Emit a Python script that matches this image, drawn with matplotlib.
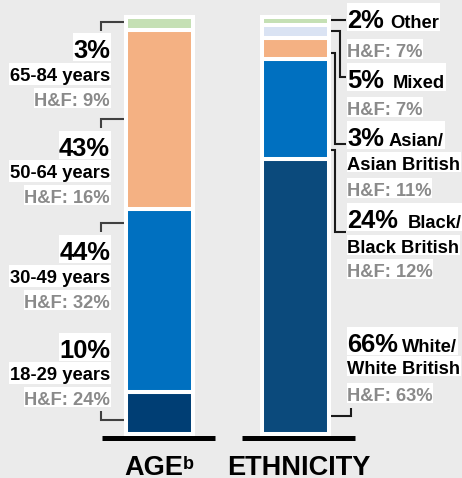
import matplotlib
matplotlib.use("Agg")
import matplotlib.pyplot as plt
from matplotlib.transforms import Affine2D
from matplotlib.patches import Rectangle
from matplotlib.lines import Line2D

# ---------------- data ----------------
# Age breakdown, stacked bottom to top
age_groups = ["18-29 years", "30-49 years", "50-64 years", "65-84 years"]
age_share = [10, 44, 43, 3]
age_hf = [24, 32, 16, 9]
age_colors = ["#003e74", "#0070c0", "#f4b183", "#c5e0b4"]

# Ethnicity breakdown, stacked bottom to top
eth_groups = ["White/\nWhite British", "Black/\nBlack British", "Mixed",
              "Asian/\nAsian British", "Other"]
eth_share = [66, 24, 5, 3, 2]
eth_hf = [63, 12, 7, 11, 7]
eth_colors = ["#0b4a7c", "#0070c0", "#f4b183", "#dae3f3", "#c5e0b4"]

bar_titles = ["AGE", "ETHNICITY"]

# ---------------- styling ----------------
W, H = 462, 478
BG = "#ebebeb"
GREY = "#8a8a8a"
FONT = "Liberation Sans"
BIG = 18.4     # percentage figures
SMALL = 13.2   # group names and H&F figures

fig = plt.figure(figsize=(W / 100, H / 100), dpi=100)
fig.patch.set_facecolor(BG)
ax = fig.add_axes([0, 0, 1, 1])
ax.set_facecolor(BG)
ax.axis("off")

# pixel (from top-left) coordinates for annotations
px = Affine2D().scale(1 / W, -1 / H).translate(0, 1) + fig.transFigure

# value axis: 0 % at row 434, 100 % at row 17
scale = 4.17
ax.set_ylim(-(H - 434) / scale, 434 / scale)
slot = 136.0
ax.set_xlim(-159.5 / slot, (W - 159.5) / slot)
bar_w = 67 / slot


def stack(xpos, shares, colors):
    bottom = 0
    for v, c in zip(shares, colors):
        ax.bar(xpos, v, bottom=bottom, width=bar_w, color=c,
               edgecolor="white", linewidth=2.9, zorder=2)
        bottom += v


stack(0, age_share, age_colors)
stack(1, eth_share, eth_colors)


def poly(xs, ys, color, lw=1.5, z=1):
    ax.add_line(Line2D(xs, ys, transform=px, color=color, lw=lw,
                       solid_joinstyle="miter", solid_capstyle="butt",
                       zorder=z, clip_on=False))


# brackets on the age side
for y in [22.5, 119.5, 223.3]:
    poly([126, 101, 101], [y, y, y + 9], "#404040")
poly([126, 101, 101], [420.5, 420.5, 411.5], "#404040")

# brackets on the ethnicity side
ec = "#1a1a1a"
poly([329, 346], [20, 20], ec)
poly([329, 340, 340, 346], [31, 31, 77, 77], ec)
poly([329, 335, 335, 346], [53, 53, 144, 144], ec)
poly([329, 335, 335, 346], [150, 150, 232, 232], ec)
poly([327, 351, 351], [416.5, 416.5, 408], ec)

# baselines under each bar
poly([102, 215], [438.5, 438.5], "black", lw=3.6, z=5)
poly([242, 355], [438.5, 438.5], "black", lw=3.6, z=5)

lines = []  # each entry: (baseline_row, [Text, ...], [font sizes])


def txt(x, y, s, size, color="black", ha="left"):
    return ax.text(x, y, s, transform=px, fontsize=size, color=color,
                   ha=ha, va="baseline", family=FONT, fontweight="bold",
                   zorder=7)


# age labels, right aligned against the brackets
age_rows = [(358, 380, 405), (260, 283, 308), (156, 178, 203), (58, 81, 106)]
for name, share, hf, (b1, b2, b3) in zip(age_groups, age_share, age_hf, age_rows):
    lines.append((b1, [txt(110, b1, f"{share}%", BIG, ha="right")], [BIG]))
    lines.append((b2, [txt(110, b2, name, SMALL, ha="right")], [SMALL]))
    lines.append((b3, [txt(110, b3, f"H&F: {hf}%", SMALL, GREY, ha="right")], [SMALL]))

# ethnicity labels, left aligned after the brackets
eth_rows = [(352, 402, 374, 401), (228, 408, 253, 277), (88, 393, None, 115),
            (146, 389, 170, 196), (28, 390.7, None, 57)]
for name, share, hf, (b1, nx, b2, b3) in zip(eth_groups, eth_share, eth_hf, eth_rows):
    parts = name.split("\n")
    t1 = txt(347, b1, f"{share}%", BIG)
    t2 = txt(nx, b1, parts[0], SMALL)
    lines.append((b1, [t1, t2], [BIG, SMALL]))
    if len(parts) > 1:
        lines.append((b2, [txt(347, b2, parts[1], SMALL)], [SMALL]))
    lines.append((b3, [txt(347, b3, f"H&F: {hf}%", SMALL, GREY)], [SMALL]))

# white boxes behind each label line
fig.canvas.draw()
r = fig.canvas.get_renderer()
for base, texts, sizes in lines:
    exts = [t.get_window_extent(r) for t in texts]
    x0 = min(e.x0 for e in exts) - 0.5
    x1 = max(e.x1 for e in exts) + 0.5
    em = max(sizes) * 100 / 72
    s = "".join(t.get_text() for t in texts)
    below = 0.22 * em if any(c in s for c in "ypgjq") else 0.1 * em
    top = base - 0.97 * em
    ax.add_patch(Rectangle((x0, top), x1 - x0, base + below - top,
                           transform=px, facecolor="white",
                           edgecolor="none", zorder=6, clip_on=False))

# titles under the bars
TITLE = 19.5
txt(124, 475.5, bar_titles[0], TITLE)
txt(183, 469.5, "b", 13)
txt(299, 475.5, bar_titles[1], TITLE, ha="center")

fig.savefig("out.png", dpi=100, facecolor=BG)
